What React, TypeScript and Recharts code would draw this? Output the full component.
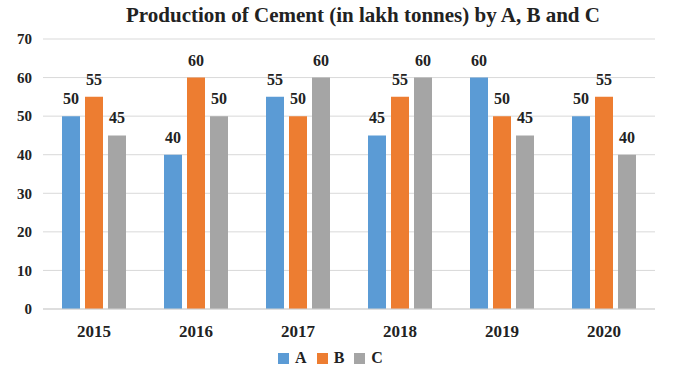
import React from 'react';
import { BarChart, Bar, XAxis, YAxis, CartesianGrid, Legend, LabelList } from 'recharts';

const years = ['2015', '2016', '2017', '2018', '2019', '2020'];
const seriesA = [50, 40, 55, 45, 60, 50];
const seriesB = [55, 60, 50, 55, 50, 55];
const seriesC = [45, 50, 60, 60, 45, 40];
const yTicks = [0, 10, 20, 30, 40, 50, 60, 70];
const seriesNames = ['A', 'B', 'C'];
const colors = ['#5B9BD5', '#ED7D31', '#A5A5A5'];

const data = years.map((y, i) => ({ year: y, A: seriesA[i], B: seriesB[i], C: seriesC[i] }));

const FONT = '"Liberation Serif", "Times New Roman", serif';

const css = `
.chart-root svg text { font-family: ${FONT} !important; font-weight: bold; }
.chart-root .xaxis-t text { font-size: 17px; }
.chart-root .yaxis-t text { font-size: 15px; }
.chart-root .recharts-label-list text { font-size: 16px; }
`;

const LegendContent = () => (
  <div style={{ display: 'flex', justifyContent: 'center', alignItems: 'center', fontFamily: FONT, fontWeight: 'bold', fontSize: 16, color: '#222', height: 20, paddingLeft: 6 }}>
    {seriesNames.map((n, i) => (
      <div key={n} style={{ display: 'flex', alignItems: 'center', marginRight: i < 2 ? 10 : 0 }}>
        <div style={{ width: 11, height: 11, background: colors[i], marginRight: 6 }} />
        <span>{n}</span>
      </div>
    ))}
  </div>
);

export default function App() {
  return (
    <div className="chart-root" style={{ position: 'absolute', left: 0, top: 0, width: 673, height: 375, background: '#fff' }}>
      <style>{css}</style>
      <div style={{ position: 'absolute', left: 0, top: 5, width: 726, textAlign: 'center', fontFamily: FONT, fontWeight: 'bold', fontSize: 21, lineHeight: '21px', color: '#222', zIndex: 2 }}>
        Production of Cement (in lakh tonnes) by A, B and C
      </div>
      <BarChart width={673} height={375} data={data} margin={{ top: 39, right: 18, left: 0, bottom: 7 }} barGap={5} barSize={18}>
        <CartesianGrid vertical={false} stroke="#D9D9D9" />
        <XAxis dataKey="year" className="xaxis-t" tickLine={false} axisLine={{ stroke: '#D0D0D0' }} height={39} tickMargin={10}
          tick={{ fontSize: 17, fill: '#222' }} />
        <YAxis domain={[0, 70]} ticks={yTicks} className="yaxis-t" width={43} tickLine={false} axisLine={false} tickMargin={5}
          tick={{ fontSize: 15, fill: '#222' }} />
        <Legend verticalAlign="bottom" height={20} content={<LegendContent />} />
        {seriesNames.map((n, i) => (
          <Bar key={n} dataKey={n} fill={colors[i]} isAnimationActive={false}>
            <LabelList dataKey={n} position="top" offset={12} fill="#222" fontSize={16} />
          </Bar>
        ))}
      </BarChart>
    </div>
  );
}
